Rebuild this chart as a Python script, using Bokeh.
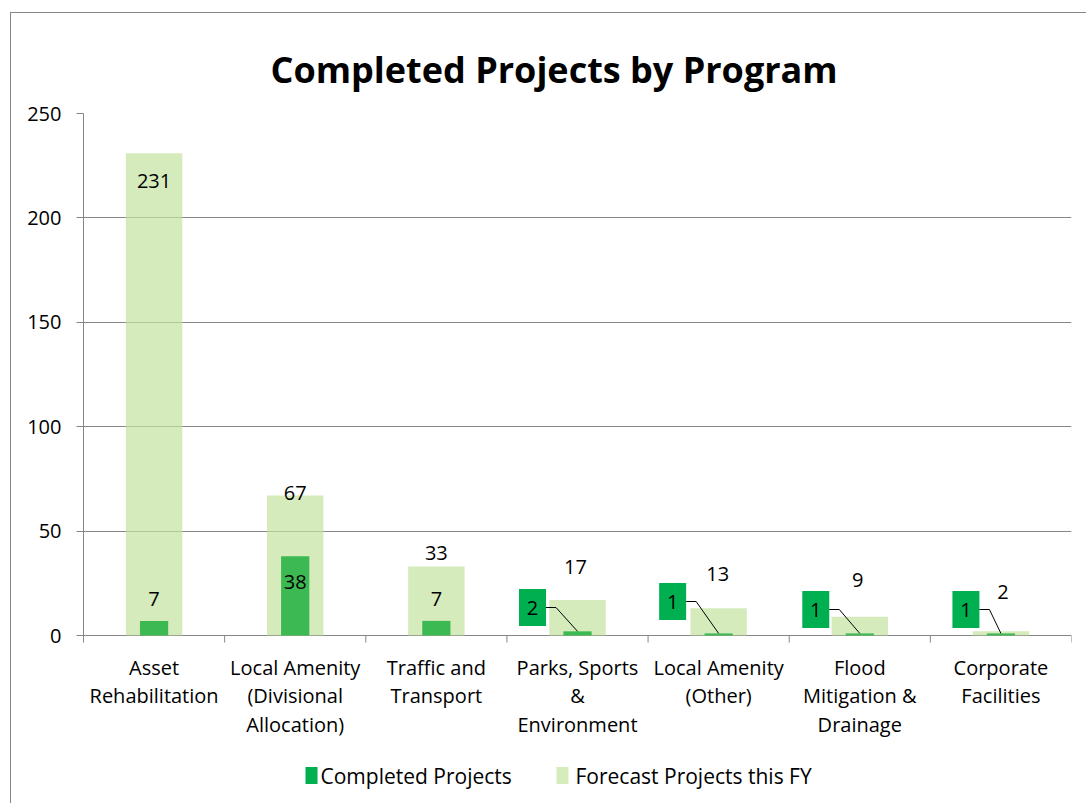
from bokeh.plotting import figure
from bokeh.models import Range1d, FixedTicker, ColumnDataSource
from bokeh.core.properties import value
from bokeh.embed import file_html
from bokeh.resources import INLINE

categories = ["Asset\nRehabilitation", "Local Amenity\n(Divisional\nAllocation)", "Traffic and\nTransport",
              "Parks, Sports\n&\nEnvironment", "Local Amenity\n(Other)", "Flood\nMitigation &\nDrainage",
              "Corporate\nFacilities"]
completed = [7, 38, 7, 2, 1, 1, 1]
forecast = [231, 67, 33, 17, 13, 9, 2]
y_ticks = [0, 50, 100, 150, 200, 250]
series_names = ["Completed Projects", "Forecast Projects this FY"]

FONT = "Open Sans"
LEFT, RIGHT, TOP, BOTTOM = 72, 15, 100, 3
FW = 988
PLOT_H = 522          # pixel height of the 0..250 value area
EXTRA_H = 165         # room below zero for category labels and legend
YMAX = 250
n = len(categories)
xpx = FW / n
ypx = PLOT_H / YMAX
YMIN = -EXTRA_H / ypx

GRAY = "#868686"
C_DARK = "#00B050"
C_BAR = "#3CB953"
C_LIGHT = "#C4E3A0"

p = figure(frame_width=FW, frame_height=PLOT_H + EXTRA_H, output_backend="svg", toolbar_location=None,
           x_range=Range1d(0, n), y_range=Range1d(YMIN, YMAX), x_axis_location=None,
           min_border_left=LEFT, min_border_right=RIGHT, min_border_top=TOP, min_border_bottom=BOTTOM)
p.outline_line_color = None
p.xgrid.grid_line_color = None
p.ygrid.grid_line_color = GRAY
p.ygrid.ticker = FixedTicker(ticks=y_ticks)

xs = [i + 0.5 for i in range(n)]
src = ColumnDataSource(dict(x=xs, f=forecast, c=completed))

p.vbar(x="x", top="f", width=0.4, source=src, fill_color=C_LIGHT, fill_alpha=0.7, line_color=None)
p.vbar(x="x", top="c", width=0.2, source=src, fill_color=C_BAR, line_color=None)

# category boundary ticks below the zero line
tick_len = 7 / ypx
p.segment(x0=list(range(1, n + 1)), y0=[0] * n, x1=list(range(1, n + 1)), y1=[-tick_len] * n,
          line_color=GRAY, line_width=1)

# category labels
p.text(x=xs, y=[0] * n, text=categories, y_offset=[18] * n, text_align="center", text_baseline="top",
       text_font=value(FONT), text_font_size="20px", text_line_height=1.07, text_color="black")

# forecast labels (pixel offsets above bar top; negative => inside)
f_dy = [-28, 3, 14, 33, 34, 37, 39]
f_dx = [0, 0, 0, -2, -1, -2, 2]
p.text(x=xs, y=forecast, text=[str(v) for v in forecast], x_offset=f_dx, y_offset=[-d for d in f_dy],
       text_align="center", text_baseline="middle", text_font=value(FONT), text_font_size="20px",
       text_color="black")

# completed labels for the first three
lab_idx = [0, 1, 2]
c_dy = [22, -26, 22]
p.text(x=[xs[i] for i in lab_idx], y=[completed[i] for i in lab_idx],
       text=[str(completed[i]) for i in lab_idx], y_offset=[-d for d in c_dy],
       text_align="center", text_baseline="middle", text_font=value(FONT), text_font_size="20px",
       text_color="black")

# callouts
call_idx = [3, 4, 5, 6]
box_dx = [-45, -46, -44, -35]
box_dy = [28, 34, 26, 26]
bx = [xs[i] + dx / xpx for i, dx in zip(call_idx, box_dx)]
by = [dy / ypx for dy in box_dy]
p.rect(x=bx, y=by, width=27, height=37, width_units="screen", height_units="screen",
       fill_color=C_DARK, line_color=None)
p.text(x=bx, y=by, text=[str(completed[i]) for i in call_idx], text_align="center",
       text_baseline="middle", text_font=value(FONT), text_font_size="20px", text_color="black")
lx, ly = [], []
for k, i in enumerate(call_idx):
    x0 = bx[k] + 13.5 / xpx
    x1 = x0 + 10 / xpx
    lx.append([x0, x1, xs[i]])
    ly.append([by[k], by[k], completed[i]])
p.multi_line(xs=lx, ys=ly, line_color="black", line_width=1)

# legend (drawn as marks below the categories)
leg_y = -140 / ypx
leg_marker_px = [228, 479]      # marker centres, px from left of plot area
leg_text_px = [237, 492]
p.rect(x=[m / xpx for m in leg_marker_px], y=[leg_y, leg_y], width=12, height=17,
       width_units="screen", height_units="screen", fill_color=[C_DARK, "#D5ECBC"], line_color=None)
p.text(x=[t / xpx for t in leg_text_px], y=[leg_y, leg_y], text=series_names, text_align="left",
       text_baseline="middle", text_font=value(FONT), text_font_size="21px", text_color="black")

# y axis
p.yaxis.ticker = FixedTicker(ticks=y_ticks)
p.yaxis.bounds = (-tick_len, YMAX)
p.yaxis.axis_line_color = GRAY
p.yaxis.major_tick_line_color = GRAY
p.yaxis.major_tick_out = 7
p.yaxis.major_tick_in = 0
p.yaxis.minor_tick_line_color = None
p.yaxis.major_label_text_font = FONT
p.yaxis.major_label_text_font_size = "20px"
p.yaxis.major_label_text_color = "black"
p.yaxis.major_label_standoff = 15

# title
p.title.text = "Completed Projects by Program"
p.title.align = "left"
p.title.offset = 187
p.title.text_font = FONT
p.title.text_font_style = "bold"
p.title.text_font_size = "36px"
p.title.text_color = "black"
p.title.standoff = 40

p.styles = {"border-left": "1px solid #868686", "border-top": "1px solid #868686",
            "margin-left": "10px", "margin-top": "12px"}

open("out.html", "w").write(file_html(p, INLINE))
